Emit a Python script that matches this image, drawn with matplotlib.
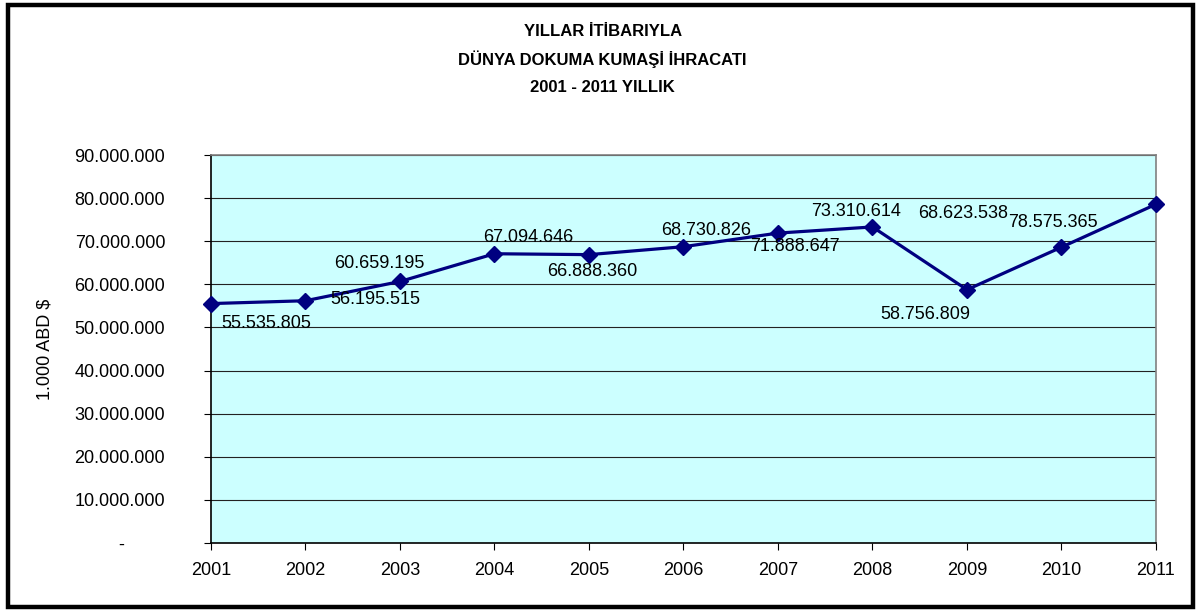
import matplotlib.pyplot as plt
from matplotlib.patches import Rectangle
from matplotlib.ticker import FixedLocator

plt.rcParams['font.family'] = ['Liberation Sans', 'DejaVu Sans']

years = [2001, 2002, 2003, 2004, 2005, 2006, 2007, 2008, 2009, 2010, 2011]
export_values = [55535805, 56195515, 60659195, 67094646, 66888360, 68730826,
                 71888647, 73310614, 58756809, 68623538, 78575365]
y_ticks = [0, 10000000, 20000000, 30000000, 40000000, 50000000,
           60000000, 70000000, 80000000, 90000000]
title_lines = ['YILLAR İTİBARIYLA', 'DÜNYA DOKUMA KUMAŞİ İHRACATI', '2001 - 2011 YILLIK']
y_label = '1.000 ABD $'

# label offsets in points (roughly where excel dropped them)
label_offsets = [(40, -14), (50, 1), (-15, 13), (24, 12), (2, -12), (16, 12),
                 (12, -10), (-12, 11), (-30, -18), (-71, 24), (-74, -13)]


def fmt_dot(v):
    if v == 0:
        return '-' + ' ' * 8
    return '{:,}'.format(int(v)).replace(',', '.')


fig = plt.figure(figsize=(11.98, 6.10), dpi=100)
ax = fig.add_axes([211 / 1198, 1 - 543 / 610, (1156 - 211) / 1198, (543 - 155) / 610])
ax.set_facecolor('#CCFFFF')

for v in y_ticks[1:]:
    ax.axhline(v, color='#222222', linewidth=0.8, zorder=1)

ax.plot(years, export_values, color='#000080', linewidth=2.3, marker='D',
        markersize=8.5, zorder=3, clip_on=False)

for x, v, off in zip(years, export_values, label_offsets):
    ax.annotate(fmt_dot(v), xy=(x, v), xytext=off, textcoords='offset points',
                ha='center', va='center', fontsize=13, color='black', zorder=4)

ax.set_xlim(2001, 2011)
ax.set_ylim(0, 90000000)
ax.xaxis.set_major_locator(FixedLocator(years))
ax.set_xticklabels([str(y) for y in years])
ax.yaxis.set_major_locator(FixedLocator(y_ticks))
ax.set_yticklabels([fmt_dot(v) for v in y_ticks])
ax.tick_params(axis='y', direction='out', length=5, width=0.8, pad=28, labelsize=13)
ax.tick_params(axis='x', direction='out', length=5, width=0.8, pad=9, labelsize=13)

ax.spines['left'].set_color('black')
ax.spines['bottom'].set_color('black')
ax.spines['top'].set_color('#808080')
ax.spines['right'].set_color('#808080')
for s in ax.spines.values():
    s.set_linewidth(1.2)

fig.text(45 / 1198, 1 - 349 / 610, y_label, rotation=90, ha='center', va='center',
         fontsize=13)

for i, line in enumerate(title_lines):
    fig.text(0.503, 1 - (31 + 28 * i) / 610, line, ha='center', va='center',
             fontsize=12, fontweight='bold')

fig.patches.append(Rectangle((7.5 / 1198, 3 / 610), (1193 - 7.5) / 1198, (605 - 3) / 610,
                             transform=fig.transFigure, fill=False,
                             edgecolor='black', linewidth=3.2))

fig.savefig('out.png', dpi=100)
